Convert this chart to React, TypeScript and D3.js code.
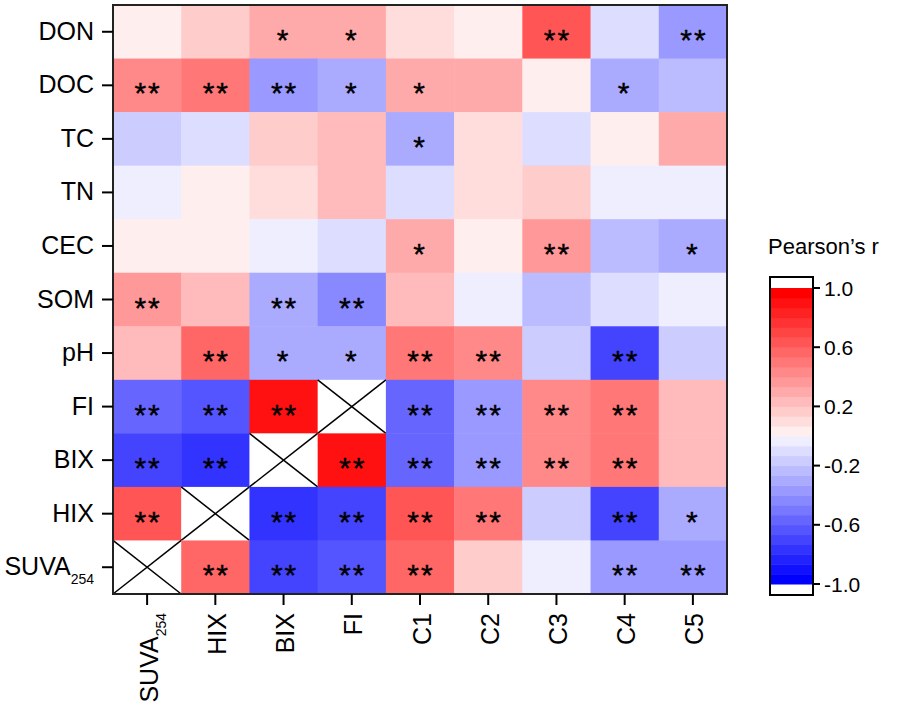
import React from 'react';
import * as d3 from 'd3';

const rowLabels = ['DON', 'DOC', 'TC', 'TN', 'CEC', 'SOM', 'pH', 'FI', 'BIX', 'HIX', 'SUVA254'];
const colLabels = ['SUVA254', 'HIX', 'BIX', 'FI', 'C1', 'C2', 'C3', 'C4', 'C5'];

const rDON = [0.03, 0.15, 0.32, 0.33, 0.12, 0.03, 0.65, -0.12, -0.38];
const rDOC = [0.45, 0.48, -0.38, -0.3, 0.33, 0.27, 0.03, -0.33, -0.22];
const rTC = [-0.17, -0.1, 0.15, 0.25, -0.3, 0.12, -0.1, 0.03, 0.27];
const rTN = [-0.04, 0.03, 0.12, 0.23, -0.1, 0.12, 0.17, -0.04, -0.04];
const rCEC = [0.03, 0.03, -0.04, -0.1, 0.33, 0.03, 0.4, -0.23, -0.33];
const rSOM = [0.38, 0.25, -0.28, -0.45, 0.22, -0.04, -0.25, -0.1, -0.04];
const rPH = [0.25, 0.58, -0.28, -0.28, 0.52, 0.45, -0.17, -0.68, -0.17];
const rFI = [-0.6, -0.65, 0.92, null, -0.6, -0.38, 0.45, 0.52, 0.25];
const rBIX = [-0.72, -0.8, null, 0.92, -0.6, -0.38, 0.45, 0.52, 0.25];
const rHIX = [0.65, null, -0.77, -0.72, 0.65, 0.52, -0.17, -0.72, -0.32];
const rSUVA = [null, 0.6, -0.72, -0.65, 0.6, 0.17, -0.04, -0.4, -0.4];
const corr: (number | null)[][] = [rDON, rDOC, rTC, rTN, rCEC, rSOM, rPH, rFI, rBIX, rHIX, rSUVA];

const sDON = ['', '', '*', '*', '', '', '**', '', '**'];
const sDOC = ['**', '**', '**', '*', '*', '', '', '*', ''];
const sTC = ['', '', '', '', '*', '', '', '', ''];
const sTN = ['', '', '', '', '', '', '', '', ''];
const sCEC = ['', '', '', '', '*', '', '**', '', '*'];
const sSOM = ['**', '', '**', '**', '', '', '', '', ''];
const sPH = ['', '**', '*', '*', '**', '**', '', '**', ''];
const sFI = ['**', '**', '**', '', '**', '**', '**', '**', ''];
const sBIX = ['**', '**', '', '**', '**', '**', '**', '**', ''];
const sHIX = ['**', '', '**', '**', '**', '**', '', '**', '*'];
const sSUVA = ['', '**', '**', '**', '**', '', '', '**', '**'];
const sig: string[][] = [sDON, sDOC, sTC, sTN, sCEC, sSOM, sPH, sFI, sBIX, sHIX, sSUVA];

const legendTicks = [1.0, 0.6, 0.2, -0.2, -0.6, -1.0];
const levels = 15;

const FONT = '"Liberation Sans", Arial, sans-serif';

function colorOf(v: number): string {
  const k = Math.min(levels, Math.max(1, Math.ceil(Math.abs(v) * levels - 1e-9)));
  const t = k / levels;
  const c = Math.round(255 * (1 - t));
  return v >= 0 ? `rgb(255,${c},${c})` : `rgb(${c},${c},255)`;
}

function Label({ name, x, y, anchor, rotate, sub }: any) {
  const isSub = name.endsWith('254');
  const main = isSub ? name.slice(0, -3) : name;
  return (
    <text
      x={x}
      y={y}
      textAnchor={anchor}
      fontSize={25}
      fontFamily={FONT}
      fill="#000"
      transform={rotate ? `rotate(-90 ${x} ${y})` : undefined}
    >
      {main}
      {isSub && (
        <tspan dy={sub} fontSize={14}>
          254
        </tspan>
      )}
    </text>
  );
}

export default function App() {
  const left = 113, right = 727, top = 5, bottom = 594;
  const x = d3.scaleBand<string>().domain(colLabels).range([left, right]);
  const y = d3.scaleBand<string>().domain(rowLabels).range([top, bottom]);
  const cw = x.bandwidth();
  const ch = y.bandwidth();

  const ly = d3.scaleLinear().domain([-1, 1]).range([584, 288]);
  const bands = d3.range(-levels, levels).map((i) => {
    const a = i / levels, b = (i + 1) / levels;
    const mid = (a + b) / 2;
    return { a, b, mid };
  });

  return (
    <svg width={898} height={708} style={{ position: 'absolute', left: 0, top: 0, background: '#fff' }}>
      <rect x={0} y={0} width={898} height={708} fill="#fff" />
      {corr.map((row, ri) =>
        row.map((v, ci) => {
          const cx = x(colLabels[ci])!;
          const cy = y(rowLabels[ri])!;
          if (v === null) {
            return (
              <g key={`${ri}-${ci}`}>
                <rect x={cx} y={cy} width={cw} height={ch} fill="#fff" />
                <line x1={cx} y1={cy} x2={cx + cw} y2={cy + ch} stroke="#000" strokeWidth={1.5} />
                <line x1={cx} y1={cy + ch} x2={cx + cw} y2={cy} stroke="#000" strokeWidth={1.5} />
              </g>
            );
          }
          return (
            <rect key={`${ri}-${ci}`} x={cx} y={cy} width={cw + 0.5} height={ch + 0.5} fill={colorOf(v)} />
          );
        })
      )}
      {sig.map((row, ri) =>
        row.map((s, ci) =>
          s ? (
            <text
              key={`s${ri}-${ci}`}
              x={x(colLabels[ci])! + cw / 2 + (s.length > 1 ? 1 : 0)}
              y={y(rowLabels[ri])! + ch / 2 + 18}
              textAnchor="middle"
              fontSize={30}
              fontFamily={FONT}
              fill="#000"
              stroke="#000"
              strokeWidth={0.4}
              letterSpacing={2}
            >
              {s}
            </text>
          ) : null
        )
      )}
      <rect x={left} y={top} width={right - left} height={bottom - top} fill="none" stroke="#222" strokeWidth={2} />
      {rowLabels.map((r) => {
        const cy = y(r)! + ch / 2;
        return (
          <g key={`yl${r}`}>
            <line x1={102} x2={left} y1={cy} y2={cy} stroke="#000" strokeWidth={2} />
            <Label name={r} x={94} y={cy + 8} anchor="end" rotate={false} sub={9} />
          </g>
        );
      })}
      {colLabels.map((c) => {
        const cx = x(c)! + cw / 2;
        return (
          <g key={`xl${c}`}>
            <line x1={cx} x2={cx} y1={bottom} y2={605} stroke="#000" strokeWidth={2} />
            <Label name={c} x={cx + 10.5} y={613} anchor="end" rotate={true} sub={8} />
          </g>
        );
      })}
      <text x={768} y={254} fontSize={22} fontFamily={FONT} fill="#000">
        Pearson’s r
      </text>
      <rect x={770} y={277} width={43} height={318} fill="#fff" />
      {bands.map((b, i) => (
        <rect
          key={`b${i}`}
          x={770}
          y={ly(b.b)}
          width={43}
          height={ly(b.a) - ly(b.b) + 0.5}
          fill={colorOf(b.mid)}
        />
      ))}
      <rect x={770} y={277} width={43} height={318} fill="none" stroke="#000" strokeWidth={2} />
      {legendTicks.map((t) => (
        <g key={`lt${t}`}>
          <line x1={813} x2={820} y1={ly(t)} y2={ly(t)} stroke="#000" strokeWidth={2} />
          <text x={824} y={ly(t) + 7.5} fontSize={21} fontFamily={FONT} fill="#000">
            {t.toFixed(1)}
          </text>
        </g>
      ))}
    </svg>
  );
}
